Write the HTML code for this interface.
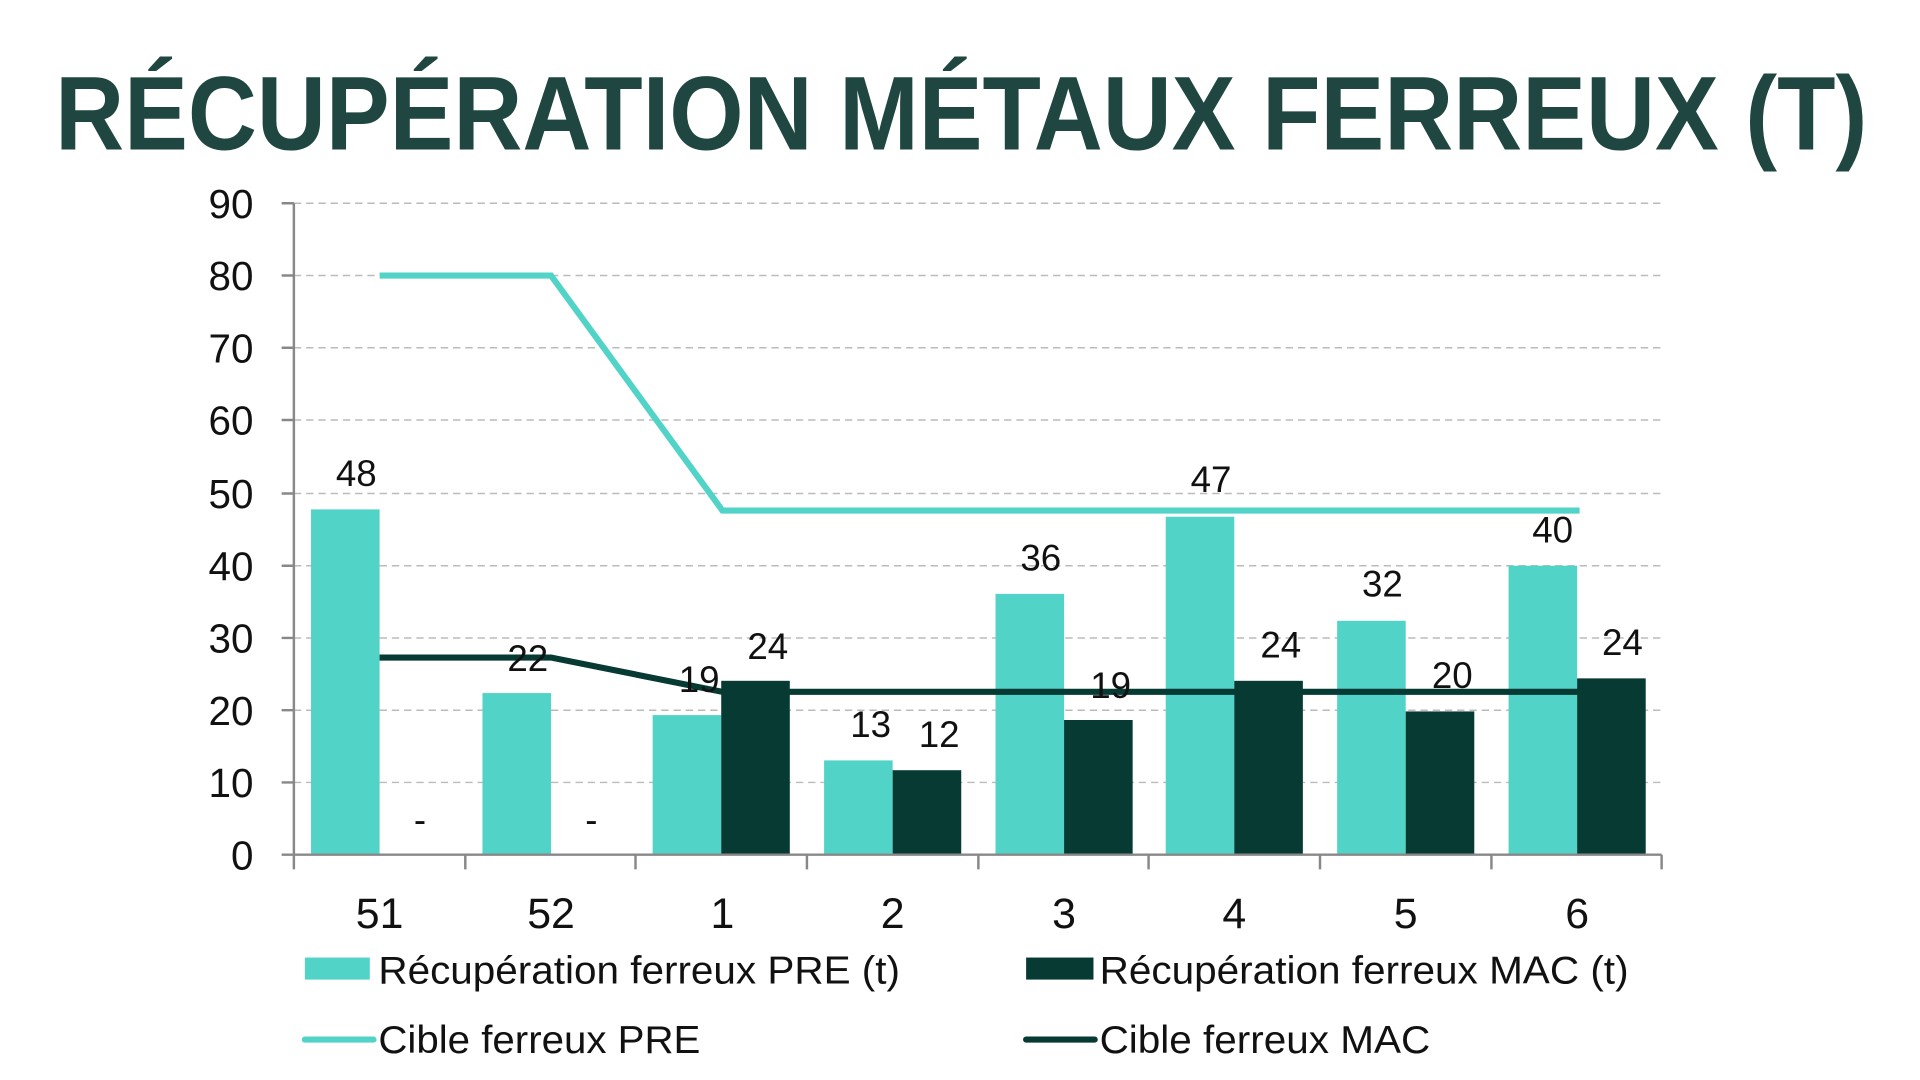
<!DOCTYPE html>
<html><head><meta charset="utf-8"><style>
html,body{margin:0;padding:0;background:#fff;width:1920px;height:1080px;overflow:hidden}
svg{display:block}
text{font-family:"Liberation Sans",sans-serif}
</style></head><body>
<svg width="1920" height="1080" viewBox="0 0 1568 882" preserveAspectRatio="none">
<text x="785" y="122" text-anchor="middle" font-size="86" font-weight="bold" fill="#1f4640" textLength="1480" lengthAdjust="spacingAndGlyphs">RÉCUPÉRATION MÉTAUX FERREUX (T)</text>
<g stroke="#bbb" stroke-width="1.2" stroke-dasharray="6,4">
<line x1="240" y1="166" x2="1357" y2="166"/><line x1="240" y1="225" x2="1357" y2="225"/>
<line x1="240" y1="284" x2="1357" y2="284"/><line x1="240" y1="343" x2="1357" y2="343"/>
<line x1="240" y1="403" x2="1357" y2="403"/><line x1="240" y1="462" x2="1357" y2="462"/>
<line x1="240" y1="521" x2="1357" y2="521"/><line x1="240" y1="580" x2="1357" y2="580"/>
<line x1="240" y1="639" x2="1357" y2="639"/>
</g>
<g fill="#52d3c8">
<rect x="254" y="416" width="56" height="282"/>
<rect x="394" y="566" width="56" height="132"/>
<rect x="533" y="584" width="56" height="114"/>
<rect x="673" y="621" width="56" height="77"/>
<rect x="813" y="485" width="56" height="213"/>
<rect x="952" y="422" width="56" height="276"/>
<rect x="1092" y="507" width="56" height="191"/>
<rect x="1232" y="462" width="56" height="236"/>
</g>
<g fill="#063a33">
<rect x="589" y="556" width="56" height="142"/>
<rect x="729" y="629" width="56" height="69"/>
<rect x="869" y="588" width="56" height="110"/>
<rect x="1008" y="556" width="56" height="142"/>
<rect x="1148" y="581" width="56" height="117"/>
<rect x="1288" y="554" width="56" height="144"/>
</g>
<polyline points="310,225 450,225 590,417 1290,417" fill="none" stroke="#52d3c8" stroke-width="5"/>
<polyline points="310,537 450,537 590,565 1290,565" fill="none" stroke="#063a33" stroke-width="5"/>
<g stroke="#888" stroke-width="2" fill="none">
<line x1="240" y1="166" x2="240" y2="698"/><line x1="240" y1="698" x2="1357" y2="698"/>
<path d="M230 166H240M230 225H240M230 284H240M230 343H240M230 403H240M230 462H240M230 521H240M230 580H240M230 639H240M230 698H240"/>
<path d="M240 698V710M380 698V710M519 698V710M659 698V710M799 698V710M938 698V710M1078 698V710M1218 698V710M1357 698V710"/>
</g>
<g font-size="33" fill="#111" text-anchor="end">
<text x="207" y="178">90</text><text x="207" y="237">80</text><text x="207" y="296">70</text>
<text x="207" y="355">60</text><text x="207" y="415">50</text><text x="207" y="474">40</text>
<text x="207" y="533">30</text><text x="207" y="592">20</text><text x="207" y="651">10</text>
<text x="207" y="710">0</text>
</g>
<g font-size="35" fill="#111" text-anchor="middle">
<text x="310" y="758">51</text><text x="450" y="758">52</text><text x="590" y="758">1</text>
<text x="729" y="758">2</text><text x="869" y="758">3</text><text x="1008" y="758">4</text>
<text x="1148" y="758">5</text><text x="1288" y="758">6</text>
</g>
<g font-size="30" fill="#111" text-anchor="middle">
<text x="291" y="397">48</text><text x="431" y="548">22</text><text x="571" y="565">19</text>
<text x="711" y="602">13</text><text x="850" y="466">36</text><text x="989" y="402">47</text>
<text x="1129" y="487">32</text><text x="1268" y="443">40</text>
<text x="343" y="680">-</text><text x="483" y="680">-</text>
<text x="627" y="538">24</text><text x="767" y="610">12</text><text x="907" y="570">19</text>
<text x="1046" y="537">24</text><text x="1186" y="562">20</text><text x="1325" y="535">24</text>
</g>
<rect x="249" y="782" width="53" height="18" fill="#52d3c8"/>
<rect x="838" y="782" width="55" height="18" fill="#063a33"/>
<line x1="249" y1="849" x2="305" y2="849" stroke="#52d3c8" stroke-width="5" stroke-linecap="round"/>
<line x1="838" y1="849" x2="894" y2="849" stroke="#063a33" stroke-width="5" stroke-linecap="round"/>
<g font-size="32" fill="#111">
<text x="309" y="803" textLength="426" lengthAdjust="spacingAndGlyphs">Récupération ferreux PRE (t)</text>
<text x="898" y="803" textLength="432" lengthAdjust="spacingAndGlyphs">Récupération ferreux MAC (t)</text>
<text x="309" y="860" textLength="263" lengthAdjust="spacingAndGlyphs">Cible ferreux PRE</text>
<text x="898" y="860" textLength="270" lengthAdjust="spacingAndGlyphs">Cible ferreux MAC</text>
</g>
</svg>
</body></html>
